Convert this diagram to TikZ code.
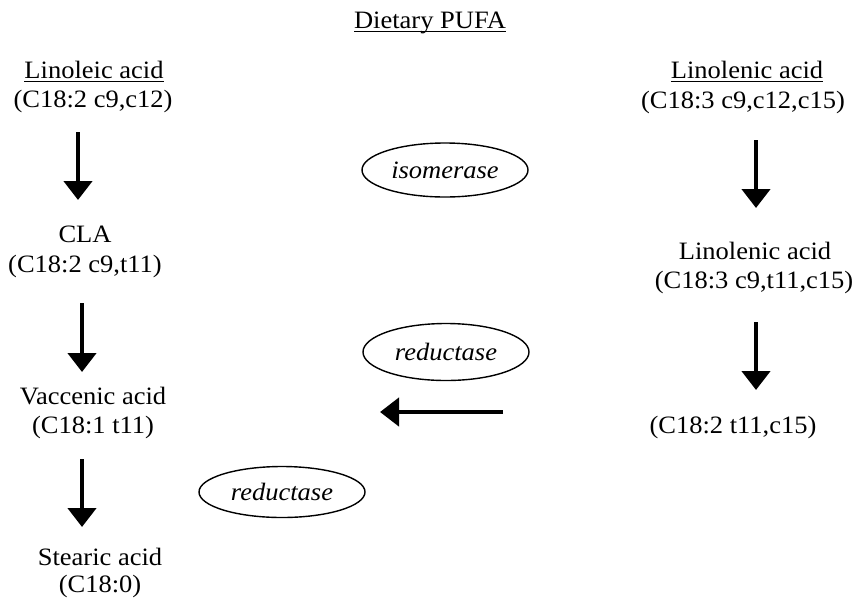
\documentclass[tikz,border=0pt]{standalone}
\usepackage{fontspec}
\setmainfont{Liberation Serif}[FakeStretch=1.06]
\usetikzlibrary{arrows.meta,shapes.geometric,calc}
\newcommand\ulx[1]{\setbox0\hbox{#1}\rlap{\rule[-4.4pt]{\wd0}{1.4pt}}\box0}
\tikzset{
  txt/.style={anchor=base,inner sep=0pt,font=\fontsize{25}{29}\selectfont},
  enz/.style={ellipse,draw,line width=1.4pt,minimum width=166pt,minimum height=54pt,inner sep=0pt,font=\fontsize{25}{29}\selectfont\itshape},
  bigarrow/.style={line width=4.5pt,-{Triangle[width=28pt,length=19pt]}}
}
\begin{document}
\begin{tikzpicture}[x=1pt,y=-1pt]
\useasboundingbox (0,0) rectangle (858,606);
% text nodes
\node[txt] (pufa) at (430,28) {\ulx{Dietary PUFA}};
\node[txt] (la1) at (94,78) {\ulx{Linoleic acid}};
\node[txt] (la2) at (93,107.5) {(C18:2 c9,c12)};
\node[txt] (cla1) at (85,242) {CLA};
\node[txt] (cla2) at (85,272) {(C18:2 c9,t11)};
\node[txt] (va1) at (93,404) {Vaccenic acid};
\node[txt] (va2) at (93,433) {(C18:1 t11)};
\node[txt] (sa1) at (100,565) {Stearic acid};
\node[txt] (sa2) at (100,592) {(C18:0)};
\node[txt] (ln1) at (747,78) {\ulx{Linolenic acid}};
\node[txt] (ln2) at (743,108) {(C18:3 c9,c12,c15)};
\node[txt] (lm1) at (755,259) {Linolenic acid};
\node[txt] (lm2) at (754,288) {(C18:3 c9,t11,c15)};
\node[txt] (tc) at (733,433) {(C18:2 t11,c15)};
% enzymes
\node[enz] (iso) at (445,170) {isomerase};
\node[enz,minimum height=57pt] (red1) at (446,352) {reductase};
\node[enz,minimum height=51pt] (red2) at (282,492) {reductase};
% arrow columns
\coordinate (cA) at (78,0);
\coordinate (cB) at (82,0);
\coordinate (cR) at (756,0);
\draw[bigarrow] ($(la2.base -| cA)+(0,24.5)$) -- ($(cla1.base -| cA)+(0,-42)$);
\draw[bigarrow] ($(cla2.base -| cB)+(0,31)$) -- ($(va1.base -| cB)+(0,-32)$);
\draw[bigarrow] ($(va2.base -| cB)+(0,26)$) -- ($(sa1.base -| cB)+(0,-38)$);
\draw[bigarrow] ($(ln2.base -| cR)+(0,32)$) -- ($(lm1.base -| cR)+(0,-51)$);
\draw[bigarrow] ($(lm2.base -| cR)+(0,34)$) -- ($(tc.base -| cR)+(0,-43)$);
\coordinate (hs) at (503,412);
\coordinate (he) at (380,412);
\draw[bigarrow] (hs) -- (he);
\end{tikzpicture}
\end{document}
